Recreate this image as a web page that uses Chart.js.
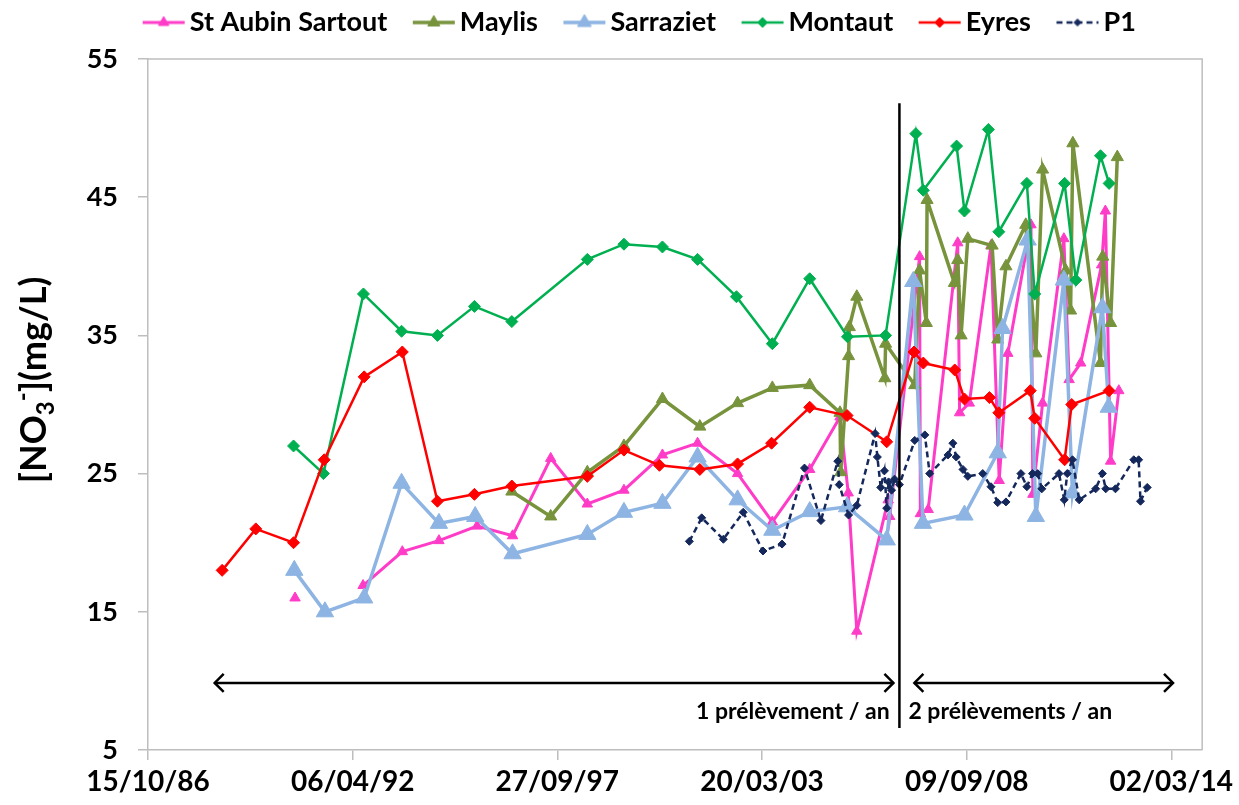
<!DOCTYPE html>
<html>
<head>
<meta charset="utf-8">
<script src="https://cdn.jsdelivr.net/npm/chart.js@4.4.1/dist/chart.umd.min.js"></script>
<style>
html,body{margin:0;padding:0;background:#ffffff;}
#wrap{width:1239px;height:805px;position:relative;}
</style>
</head>
<body>
<div id="wrap"><canvas id="c" width="1239" height="805"></canvas></div>
<script>
// ---------- DATA (dates as decimal years, values in mg/L) ----------
const seriesNames = ['St Aubin Sartout', 'Maylis', 'Sarraziet', 'Montaut', 'Eyres', 'P1'];

const stAubinDates = [1990.72, 1991.50, 1992.54, 1993.59, 1994.57, 1995.59, 1996.54, 1997.56, 1998.54, 1999.52, 2000.55, 2001.49, 2002.56, 2003.49, 2004.49, 2005.30, 2005.52, 2005.75, 2006.59, 2006.63, 2007.43, 2007.45, 2007.66, 2008.45, 2008.50, 2008.76, 2009.34, 2009.56, 2009.79, 2010.41, 2010.46, 2010.72, 2011.29, 2011.43, 2011.74, 2012.30, 2012.40, 2012.54, 2012.76];
const stAubinValues = [16.0, null, 16.9, 19.35, 20.15, 21.2, 20.5, 26.1, 22.8, 23.8, 26.35, 27.2, 25.0, 21.5, 25.3, 29.1, 23.6, 13.6, 23.1, 21.9, 40.7, 22.1, 22.4, 41.7, 29.4, 30.1, 41.5, 24.5, 33.7, 43.0, 23.5, 30.1, 42.0, 31.8, 33.0, 40.1, 44.0, 25.9, 31.0];

const maylisDates = [1996.52, 1997.56, 1998.54, 1999.52, 2000.55, 2001.55, 2002.56, 2003.49, 2004.49, 2005.30, 2005.32, 2005.53, 2005.55, 2005.75, 2006.50, 2006.52, 2007.30, 2007.43, 2007.61, 2007.63, 2008.36, 2008.45, 2008.54, 2008.72, 2009.37, 2009.52, 2009.74, 2010.27, 2010.54, 2010.72, 2011.34, 2011.47, 2011.53, 2012.27, 2012.33, 2012.54, 2012.72];
const maylisValues = [23.7, 21.9, 25.1, 27.0, 30.4, 28.4, 30.1, 31.2, 31.4, 29.4, 25.1, 33.5, 35.6, 37.8, 31.9, 34.4, 31.4, 39.7, 35.9, 44.8, 38.8, 40.45, 35.0, 42.0, 41.5, 34.7, 40.0, 43.0, 33.7, 47.0, 39.7, 36.8, 48.9, 33.0, 40.7, 35.9, 47.9];

const sarrazietDates = [1990.70, 1991.52, 1992.57, 1993.57, 1994.57, 1995.54, 1996.54, 1998.54, 1999.52, 2000.55, 2001.49, 2002.56, 2003.49, 2004.49, 2005.49, 2006.55, 2007.26, 2007.52, 2008.63, 2009.52, 2009.65, 2010.32, 2010.54, 2011.29, 2011.52, 2012.32, 2012.49];
const sarrazietValues = [18.0, 15.0, 16.0, 24.3, 21.4, 21.9, 19.2, 20.6, 22.2, 22.85, 26.2, 23.1, 20.9, 22.25, 22.6, 20.2, 38.9, 21.4, 22.0, 26.5, 35.5, 41.9, 21.9, 39.0, 23.6, 37.0, 29.8];

const montautDates = [1990.68, 1991.48, 1992.55, 1993.57, 1994.53, 1995.52, 1996.52, 1998.54, 1999.52, 2000.55, 2001.49, 2002.53, 2003.49, 2004.49, 2005.50, 2006.52, 2007.33, 2007.53, 2008.42, 2008.63, 2009.27, 2009.55, 2010.30, 2010.51, 2011.31, 2011.61, 2012.27, 2012.50];
const montautValues = [27.0, 25.0, 38.0, 35.3, 35.0, 37.1, 36.0, 40.5, 41.6, 41.4, 40.5, 37.8, 34.4, 39.1, 34.9, 35.0, 49.6, 45.5, 48.7, 44.0, 49.9, 42.5, 46.0, 38.0, 46.0, 39.0, 48.0, 46.0];

const eyresDates = [1988.77, 1989.67, 1990.68, 1991.50, 1992.57, 1993.59, 1994.53, 1995.52, 1996.52, 1998.54, 1999.52, 2000.47, 2001.55, 2002.56, 2003.47, 2004.49, 2005.49, 2006.55, 2007.28, 2007.53, 2008.37, 2008.63, 2009.30, 2009.55, 2010.39, 2010.51, 2011.31, 2011.50, 2012.50];
const eyresValues = [18.0, 21.0, 20.0, 26.0, 32.0, 33.8, 23.0, 23.5, 24.1, 24.8, 26.7, 25.6, 25.3, 25.7, 27.2, 29.8, 29.2, 27.3, 33.8, 33.0, 32.5, 30.4, 30.5, 29.4, 31.0, 29.0, 26.0, 30.0, 31.0];

const p1Dates = [2001.27, 2001.60, 2002.18, 2002.71, 2003.24, 2003.75, 2004.35, 2004.79, 2005.24, 2005.28, 2005.53, 2005.75, 2006.24, 2006.30, 2006.39, 2006.49, 2006.55, 2006.60, 2006.68, 2006.76, 2006.89, 2007.30, 2007.57, 2007.70, 2008.19, 2008.32, 2008.41, 2008.59, 2008.72, 2009.12, 2009.34, 2009.52, 2009.74, 2010.14, 2010.30, 2010.45, 2010.59, 2010.70, 2011.16, 2011.30, 2011.38, 2011.52, 2011.70, 2012.14, 2012.32, 2012.41, 2012.67, 2013.16, 2013.29, 2013.34, 2013.52];
const p1Values = [20.1, 21.8, 20.25, 22.2, 19.4, 19.9, 25.4, 21.6, 25.9, 24.2, 22.0, 22.7, 27.9, 26.2, 24.0, 25.2, 22.5, 24.4, 23.8, 24.6, 24.2, 27.4, 27.8, 25.0, 26.35, 27.2, 26.2, 25.3, 24.8, 25.0, 24.05, 22.9, 22.95, 25.0, 24.05, 25.0, 25.0, 23.9, 25.0, 23.1, 25.0, 26.0, 23.1, 23.9, 25.0, 23.9, 23.9, 26.0, 26.0, 23.0, 24.0];

// x axis: dates (decimal years) and their labels
const xTickDates = [1986.786, 1992.262, 1997.737, 2003.213, 2008.689, 2014.164];
const xTickLabels = ['15/10/86', '06/04/92', '27/09/97', '20/03/03', '09/09/08', '02/03/14'];
const xAxisMin = 1986.786;
const xAxisMax = 2014.99;
const yTickValues = [5, 15, 25, 35, 45, 55];

// annotations (in data units)
const periodSeparator = { x: 2006.89, yFrom: 51.8, yTo: 6.6 };
const periodArrows = [
  { x1: 1988.57, x2: 2006.73, y: 9.85 },
  { x1: 2007.29, x2: 2014.21, y: 9.85 }
];
const periodLabels = [
  { text: '1 prélèvement / an', x: 2006.63, y: 7.75, align: 'right' },
  { text: '2 prélèvements / an', x: 2007.13, y: 7.75, align: 'left' }
];

// ---------- STYLES ----------
const seriesStyles = [
  { color: '#FF3CC8', lineWidth: 3,   pointStyle: 'triangle', radius: 6,  legendRadius: 6,  dash: [],     order: 6 },
  { color: '#77933C', lineWidth: 3.5, pointStyle: 'triangle', radius: 7,  legendRadius: 7,  dash: [],     order: 5 },
  { color: '#8DB4E2', lineWidth: 3.5, pointStyle: 'triangle', radius: 10, legendRadius: 8,  dash: [],     order: 4 },
  { color: '#00B050', lineWidth: 2.5, pointStyle: 'rectRot',  radius: 6,  legendRadius: 5,  dash: [],     order: 3 },
  { color: '#FF0000', lineWidth: 2.5, pointStyle: 'rectRot',  radius: 6,  legendRadius: 5,  dash: [],     order: 2 },
  { color: '#14285C', lineWidth: 2.5, pointStyle: 'rectRot',  radius: 4,  legendRadius: 3.5, dash: [6, 4], order: 1 }
];
const seriesDates = [stAubinDates, maylisDates, sarrazietDates, montautDates, eyresDates, p1Dates];
const seriesValues = [stAubinValues, maylisValues, sarrazietValues, montautValues, eyresValues, p1Values];
const axisGray = '#BEBEBE';
const FONT = 'Lato';
const PLOT_TOP = 59;            // top of the plot area (px)
const LEGEND_SHIFT = { x: 40, y: -25 };
const LEGEND_FONT = 27, LEGEND_PAD = 34, LEGEND_BOX = 25, ICON_W = 44;

// ---------- LEGEND ICONS ----------
function makeIcon(s) {
  const c = document.createElement('canvas');
  c.width = ICON_W; c.height = 22;
  const g = c.getContext('2d');
  g.strokeStyle = s.color; g.lineWidth = s.lineWidth;
  g.setLineDash(s.dash);
  g.beginPath(); g.moveTo(1, 11); g.lineTo(ICON_W - 1, 11); g.stroke();
  g.setLineDash([]);
  g.fillStyle = s.color; g.lineWidth = 1;
  const r = s.legendRadius, cx = ICON_W / 2, cy = 11;
  g.beginPath();
  if (s.pointStyle === 'triangle') {
    g.moveTo(cx, cy - r);
    g.lineTo(cx + 0.866 * r, cy + 0.5 * r);
    g.lineTo(cx - 0.866 * r, cy + 0.5 * r);
  } else {
    g.moveTo(cx - r, cy); g.lineTo(cx, cy - r); g.lineTo(cx + r, cy); g.lineTo(cx, cy + r);
  }
  g.closePath(); g.fill(); g.stroke();
  return c;
}
const legendIcons = seriesStyles.map(makeIcon);

// ---------- DATASETS ----------
const datasets = seriesNames.map((name, i) => {
  const s = seriesStyles[i];
  return {
    label: name,
    data: seriesDates[i].map((d, k) => ({ x: d, y: seriesValues[i][k] })),
    borderColor: s.color,
    backgroundColor: s.color,
    borderWidth: s.lineWidth,
    borderDash: s.dash,
    pointStyle: s.pointStyle,
    pointRadius: s.radius,
    pointHoverRadius: s.radius,
    pointBackgroundColor: s.color,
    pointBorderColor: s.color,
    pointBorderWidth: 1,
    tension: 0,
    spanGaps: false,
    order: s.order
  };
});

// ---------- PLUGINS ----------
const legendTuner = {
  id: 'legendTuner',
  beforeLayout(chart) {
    const lg = chart.legend;
    if (lg && !lg.__tuned) {
      const origFit = lg.fit, origDraw = lg.draw;
      lg.fit = function () { origFit.call(this); this.height = PLOT_TOP; };
      lg.draw = function () {
        const saved = { left: this.left, right: this.right, top: this.top, bottom: this.bottom };
        this.left += LEGEND_SHIFT.x; this.right += LEGEND_SHIFT.x;
        this.top += LEGEND_SHIFT.y; this.bottom = saved.bottom;
        origDraw.call(this);
        Object.assign(this, saved);
      };
      lg.__tuned = true;
    }
  }
};

const decorations = {
  id: 'decorations',
  beforeDatasetsDraw(chart) {
    const { ctx, chartArea: a } = chart;
    ctx.save();
    ctx.strokeStyle = axisGray; ctx.lineWidth = 1.5;
    ctx.beginPath();
    ctx.moveTo(a.left, a.top); ctx.lineTo(a.right, a.top); ctx.lineTo(a.right, a.bottom);
    ctx.stroke();
    ctx.restore();
  },
  afterDatasetsDraw(chart) {
    const { ctx, scales: { x, y } } = chart;
    ctx.save();
    ctx.strokeStyle = '#000'; ctx.fillStyle = '#000';
    ctx.lineWidth = 2.5;
    const sx = x.getPixelForValue(periodSeparator.x);
    ctx.beginPath();
    ctx.moveTo(sx, y.getPixelForValue(periodSeparator.yFrom));
    ctx.lineTo(sx, y.getPixelForValue(periodSeparator.yTo));
    ctx.stroke();
    periodArrows.forEach(ar => {
      const x1 = x.getPixelForValue(ar.x1), x2 = x.getPixelForValue(ar.x2), yy = y.getPixelForValue(ar.y);
      ctx.lineWidth = 2.5;
      ctx.beginPath(); ctx.moveTo(x1, yy); ctx.lineTo(x2, yy); ctx.stroke();
      ctx.beginPath();
      ctx.moveTo(x1 + 9, yy - 9); ctx.lineTo(x1, yy); ctx.lineTo(x1 + 9, yy + 9);
      ctx.moveTo(x2 - 9, yy - 9); ctx.lineTo(x2, yy); ctx.lineTo(x2 - 9, yy + 9);
      ctx.stroke();
    });
    ctx.font = 'bold 23px ' + FONT;
    ctx.textBaseline = 'middle';
    periodLabels.forEach(l => {
      ctx.textAlign = l.align;
      ctx.fillText(l.text, x.getPixelForValue(l.x), y.getPixelForValue(l.y));
    });
    ctx.restore();
  },
  afterDraw(chart) {
    const ctx = chart.ctx;
    const big = 'bold 36px ' + FONT, small = 'bold 24px ' + FONT;
    const parts = [
      { t: '[NO', f: big, dy: 0 },
      { t: '3', f: small, dy: 8 },
      { t: '-', f: small, dy: -15 },
      { t: '](mg/L)', f: big, dy: 0 }
    ];
    ctx.save();
    ctx.fillStyle = '#000';
    ctx.textBaseline = 'alphabetic';
    let total = 0;
    parts.forEach(p => { ctx.font = p.f; p.w = ctx.measureText(p.t).width; total += p.w; });
    ctx.translate(33, 380);
    ctx.rotate(-Math.PI / 2);
    let cx = -total / 2;
    parts.forEach(p => { ctx.font = p.f; ctx.textAlign = 'left'; ctx.fillText(p.t, cx, 13 + p.dy); cx += p.w; });
    ctx.restore();
  }
};

// ---------- CHART ----------
Chart.defaults.font.family = FONT;
new Chart(document.getElementById('c'), {
  type: 'line',
  data: { datasets },
  options: {
    responsive: false,
    animation: false,
    devicePixelRatio: 1,
    layout: { padding: { top: 0, left: 0, right: 32, bottom: 0 } },
    plugins: {
      legend: {
        position: 'top',
        align: 'center',
        labels: {
          usePointStyle: true,
          pointStyleWidth: LEGEND_BOX,
          padding: LEGEND_PAD,
          color: '#000',
          font: { size: LEGEND_FONT, weight: 'bold', family: FONT },
          sort: (a, b) => a.datasetIndex - b.datasetIndex,
          generateLabels(chart) {
            const items = Chart.defaults.plugins.legend.labels.generateLabels(chart);
            items.forEach(it => { it.pointStyle = legendIcons[it.datasetIndex]; it.fontColor = '#000'; });
            return items;
          }
        }
      },
      tooltip: { enabled: false }
    },
    scales: {
      x: {
        type: 'linear',
        min: xAxisMin,
        max: xAxisMax,
        afterBuildTicks: s => { s.ticks = xTickDates.map(v => ({ value: v })); },
        afterFit: s => { s.height = 55; },
        grid: { drawOnChartArea: false, drawTicks: true, tickLength: 10, color: axisGray, lineWidth: 1.5 },
        border: { display: true, color: axisGray, width: 1.5 },
        ticks: {
          autoSkip: false, maxRotation: 0, minRotation: 0, padding: 5, color: '#000',
          font: { size: 28, weight: 'bold', family: FONT },
          callback: (v, i) => xTickLabels[i]
        }
      },
      y: {
        type: 'linear',
        min: 5,
        max: 55,
        afterBuildTicks: s => { s.ticks = yTickValues.map(v => ({ value: v })); },
        afterFit: s => { s.width = 148; },
        grid: { drawOnChartArea: false, drawTicks: true, tickLength: 10, color: axisGray, lineWidth: 1.5 },
        border: { display: true, color: axisGray, width: 1.5 },
        ticks: {
          padding: 20, color: '#000',
          font: { size: 27, weight: 'bold', family: FONT },
          callback: v => String(v)
        }
      }
    }
  },
  plugins: [legendTuner, decorations]
});
</script>
</body>
</html>
